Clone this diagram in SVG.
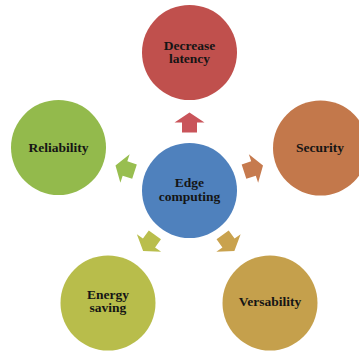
<svg xmlns="http://www.w3.org/2000/svg" width="359" height="354" viewBox="0 0 359 354">
<style>
.lbl{font-family:"Liberation Serif","Times New Roman",serif;font-weight:bold;font-size:13.5px;fill:#151515;text-anchor:middle}
</style>
<defs>
<path id="arr" d="M0,-10 L15,0 L7.5,0 L7.5,10 L-7.5,10 L-7.5,0 L-15,0 Z"/>
</defs>
<rect width="359" height="354" fill="#ffffff"/>
<g id="connectors">
<use href="#arr" fill="#C9545A" transform="translate(189.5,122.5) rotate(0)"/>
<use href="#arr" fill="#C67A4E" transform="translate(253.5,168.5) rotate(72)"/>
<use href="#arr" fill="#C9A24E" transform="translate(228.5,243) rotate(144)"/>
<use href="#arr" fill="#B9BE4C" transform="translate(149,243) rotate(216)"/>
<use href="#arr" fill="#98BE50" transform="translate(125,168.5) rotate(288)"/>
</g>
<g id="edge">
<circle cx="189.5" cy="190.5" r="47.5" fill="#4F81BD"/>
<text class="lbl" x="189.5" y="187">Edge</text>
<text class="lbl" x="189.5" y="200.5">computing</text>
</g>
<g id="latency">
<circle cx="189.5" cy="52.5" r="47.5" fill="#C0504D"/>
<text class="lbl" x="189.5" y="49.5">Decrease</text>
<text class="lbl" x="189.5" y="63">latency</text>
</g>
<g id="security">
<circle cx="320.5" cy="148" r="47.5" fill="#C3784B"/>
<text class="lbl" x="320" y="152">Security</text>
</g>
<g id="versability">
<circle cx="270" cy="303" r="47.5" fill="#C5A04C"/>
<text class="lbl" x="270" y="305.5">Versability</text>
</g>
<g id="energy">
<circle cx="108" cy="303" r="47.5" fill="#B8BD4B"/>
<text class="lbl" x="108" y="298.5">Energy</text>
<text class="lbl" x="108" y="312">saving</text>
</g>
<g id="reliability">
<circle cx="58.5" cy="147.5" r="47.5" fill="#93BA4C"/>
<text class="lbl" x="58.5" y="152">Reliability</text>
</g>
</svg>
